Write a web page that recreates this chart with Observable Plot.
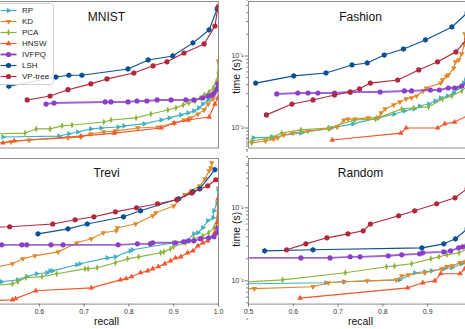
<!DOCTYPE html>
<html><head><meta charset="utf-8">
<script src="https://cdn.jsdelivr.net/npm/d3@7"></script>
<script src="https://cdn.jsdelivr.net/npm/@observablehq/plot@0.6"></script>
<style>
html,body{margin:0;padding:0;background:#fff;}
#fig{position:relative;width:465px;height:329px;overflow:hidden;background:#fff;font-family:"Liberation Sans",Arial,sans-serif;}
</style></head><body><div id="fig"></div>
<script>
const methods = ["RP","KD","PCA","HNSW","IVFPQ","LSH","VP-tree"];
const colors = ["#3fb0c0","#e0892a","#8db33d","#f2562b","#8a3fc8","#0b5095","#b0283e"];
const titles = ["MNIST","Fashion","Trevi","Random"];
const xTicksLeft = [0.6,0.7,0.8,0.9,1.0];
const xTicksRight = [0.5,0.6,0.7,0.8,0.9];
const yMajorTicks = [0.01,0.1];
const yMinorTicks = [0.002,0.003,0.004,0.005,0.006,0.007,0.008,0.009,0.02,0.03,0.04,0.05,0.06,0.07,0.08,0.09,0.2,0.3,0.4,0.5,0.6,0.7,0.8,0.9];

// [recall, time (s)]
const mnistRP = [[0.519,0.0075],[0.644,0.0077],[0.666,0.0083],[0.686,0.0088],[0.715,0.0097],[0.738,0.0100],[0.776,0.0103],[0.789,0.0107],[0.834,0.0114],[0.872,0.0129],[0.890,0.0138],[0.916,0.0152],[0.932,0.0162],[0.945,0.0172],[0.956,0.0190],[0.965,0.0215],[0.977,0.0245],[0.988,0.0278],[0.994,0.0327],[0.999,0.042]];
const mnistKD = [[0.505,0.0062],[0.537,0.0064],[0.577,0.0068],[0.664,0.0073],[0.693,0.0075],[0.715,0.0083],[0.744,0.0088],[0.771,0.0091],[0.820,0.0100],[0.865,0.0103],[0.901,0.0117],[0.923,0.0129],[0.938,0.0138],[0.954,0.0156],[0.968,0.0178],[0.977,0.0215],[0.988,0.0253],[0.994,0.0327],[0.999,0.045],[0.9995,0.085]];
const mnistPCA = [[0.505,0.0083],[0.568,0.0085],[0.593,0.0097],[0.624,0.0097],[0.651,0.0107],[0.673,0.0110],[0.744,0.0121],[0.760,0.0129],[0.816,0.0138],[0.849,0.0156],[0.887,0.0178],[0.905,0.0190],[0.921,0.0209],[0.934,0.0222],[0.948,0.0237],[0.959,0.0261],[0.968,0.0287],[0.979,0.0316],[0.988,0.0359],[0.994,0.042],[0.999,0.058],[1.0,0.080]];
const mnistHNSW = [[0.519,0.0062],[0.544,0.0066],[0.693,0.0077],[0.767,0.0085],[0.872,0.0100],[0.901,0.0117],[0.932,0.0129],[0.979,0.0142],[0.992,0.0215],[0.999,0.0261],[1.0,0.0327]];
const mnistIVFPQ = [[0.615,0.0215],[0.633,0.0222],[0.747,0.0230],[0.760,0.0230],[0.798,0.0230],[0.818,0.0237],[0.840,0.0237],[0.863,0.0245],[0.894,0.0245],[0.927,0.0245],[0.945,0.0245],[0.965,0.0261],[0.977,0.0278],[0.985,0.0287],[0.990,0.0306],[0.997,0.035],[0.999,0.041]];
const mnistLSH = [[0.532,0.038],[0.637,0.051],[0.666,0.054],[0.695,0.054],[0.798,0.066],[0.843,0.088],[0.898,0.100],[0.943,0.152],[0.979,0.230],[0.997,0.450]];
const mnistVP = [[0.573,0.0245],[0.624,0.0278],[0.664,0.034],[0.715,0.041],[0.751,0.048],[0.811,0.058],[0.854,0.073],[0.885,0.083],[0.923,0.110],[0.968,0.147],[0.992,0.261],[0.999,0.480]];

const fashionRP = [[0.511,0.0073],[0.554,0.0075],[0.617,0.0085],[0.685,0.0100],[0.733,0.0114],[0.789,0.0138],[0.825,0.0156],[0.848,0.0172],[0.870,0.0184],[0.882,0.0202],[0.902,0.0215],[0.917,0.0237],[0.929,0.0261],[0.944,0.0278],[0.958,0.0306],[0.969,0.0359],[0.980,0.042],[0.988,0.062]];
const fashionKD = [[0.507,0.0062],[0.538,0.0066],[0.556,0.0070],[0.565,0.0073],[0.579,0.0080],[0.599,0.0085],[0.633,0.0091],[0.680,0.0097],[0.698,0.0103],[0.713,0.0129],[0.722,0.0133],[0.738,0.0133],[0.767,0.0138],[0.789,0.0138],[0.796,0.0162],[0.805,0.0184],[0.824,0.0209],[0.838,0.0230],[0.852,0.0253],[0.864,0.0261],[0.875,0.0278],[0.890,0.0327],[0.897,0.0359],[0.929,0.042],[0.933,0.0464],[0.942,0.0527],[0.946,0.0545],[0.958,0.068],[0.962,0.083],[0.969,0.088],[0.976,0.107],[0.982,0.147],[0.983,0.202]];
const fashionPCA = [[0.507,0.0066],[0.549,0.0073],[0.574,0.0085],[0.617,0.0094],[0.678,0.0100],[0.736,0.0129],[0.783,0.0133],[0.842,0.0184],[0.869,0.0190],[0.902,0.0196],[0.933,0.0253],[0.954,0.0278],[0.976,0.0327],[0.988,0.0383]];
const fashionHNSW = [[0.687,0.0068],[0.840,0.0085],[0.852,0.0100],[0.922,0.0100],[0.938,0.0114],[0.960,0.0121],[0.988,0.0147]];
const fashionIVFPQ = [[0.563,0.0297],[0.610,0.0306],[0.633,0.0306],[0.655,0.0306],[0.692,0.0306],[0.727,0.0316],[0.794,0.0316],[0.848,0.0327],[0.864,0.0327],[0.906,0.0337],[0.926,0.0337],[0.946,0.0359],[0.960,0.0359],[0.976,0.0383],[0.988,0.042]];
const fashionLSH = [[0.516,0.042],[0.601,0.053],[0.673,0.058],[0.731,0.075],[0.765,0.080],[0.803,0.103],[0.846,0.125],[0.895,0.167],[0.954,0.253],[0.988,0.396]];
const fashionVP = [[0.540,0.0152],[0.597,0.0215],[0.644,0.0245],[0.692,0.0287],[0.727,0.0316],[0.748,0.035],[0.772,0.042],[0.833,0.0464],[0.880,0.064],[0.922,0.083],[0.963,0.114],[0.988,0.172]];

const treviRP = [[0.49,0.0095],[0.516,0.0097],[0.552,0.0103],[0.572,0.0114],[0.594,0.0125],[0.617,0.0129],[0.624,0.0137],[0.630,0.0137],[0.684,0.0166],[0.691,0.0171],[0.752,0.0206],[0.770,0.0213],[0.803,0.0257],[0.808,0.0266],[0.900,0.0332],[0.927,0.0342],[0.945,0.044],[0.954,0.0455],[0.965,0.0532],[0.976,0.0664],[0.988,0.073],[0.990,0.091],[0.997,0.117],[0.999,0.182]];
const treviKD = [[0.49,0.0148],[0.540,0.0171],[0.563,0.020],[0.590,0.022],[0.642,0.0249],[0.684,0.0332],[0.716,0.0376],[0.743,0.0455],[0.772,0.0484],[0.774,0.0532],[0.815,0.060],[0.853,0.0777],[0.860,0.0855],[0.900,0.106],[0.925,0.151],[0.940,0.171],[0.958,0.200],[0.970,0.249],[0.979,0.321],[0.983,0.353],[0.985,0.413]];
const treviPCA = [[0.49,0.0085],[0.540,0.0091],[0.552,0.0097],[0.570,0.0110],[0.606,0.0114],[0.639,0.0125],[0.702,0.0146],[0.709,0.0146],[0.729,0.0151],[0.770,0.0177],[0.797,0.020],[0.822,0.0213],[0.871,0.0242],[0.878,0.0249],[0.893,0.0274],[0.900,0.0292],[0.927,0.0332],[0.945,0.0376],[0.965,0.0413],[0.978,0.0455],[0.990,0.0532],[0.997,0.0706],[0.999,0.133],[1.0,0.182]];
const treviHNSW = [[0.49,0.0053],[0.540,0.0055],[0.547,0.0057],[0.592,0.0073],[0.716,0.0080],[0.781,0.0103],[0.794,0.0107],[0.806,0.0114],[0.826,0.0129],[0.842,0.0137],[0.853,0.0146],[0.866,0.0156],[0.880,0.0171],[0.893,0.0188],[0.904,0.0206],[0.916,0.0213],[0.931,0.0242],[0.943,0.0257],[0.954,0.0302],[0.965,0.0332],[0.976,0.0353],[0.990,0.044],[0.997,0.0624],[0.999,0.133]];
const treviIVFPQ = [[0.49,0.0311],[0.516,0.0311],[0.561,0.0311],[0.572,0.0311],[0.626,0.0311],[0.653,0.0311],[0.776,0.0311],[0.819,0.0321],[0.848,0.0321],[0.853,0.0332],[0.904,0.0332],[0.922,0.0342],[0.933,0.0353],[0.945,0.0353],[0.960,0.0376],[0.978,0.0388],[0.990,0.0401],[0.997,0.0455],[0.999,0.0532]];
const treviLSH = [[0.597,0.044],[0.664,0.0515],[0.707,0.060],[0.788,0.0753],[0.826,0.091],[0.911,0.133],[0.943,0.166],[0.958,0.182],[0.992,0.332]];
const treviVP = [[0.49,0.054],[0.534,0.055],[0.630,0.060],[0.680,0.0686],[0.722,0.0753],[0.770,0.088],[0.817,0.100],[0.864,0.1135],[0.907,0.129],[0.940,0.160],[0.976,0.200],[0.994,0.242]];

const randomRP = [[0.49,0.0091],[0.673,0.0094],[0.713,0.0097],[0.837,0.0103],[0.871,0.0129],[0.894,0.0133],[0.909,0.0137],[0.936,0.0146],[0.954,0.0151],[0.976,0.0171],[0.988,0.0182]];
const randomKD = [[0.49,0.0078],[0.513,0.0078],[0.644,0.0083],[0.678,0.0094],[0.713,0.0097],[0.765,0.0100],[0.830,0.0103],[0.842,0.0117],[0.857,0.0121],[0.894,0.0129],[0.931,0.0146],[0.943,0.0156],[0.954,0.0160],[0.972,0.0177],[0.983,0.0182],[0.988,0.0188]];
const randomPCA = [[0.49,0.0096],[0.576,0.0103],[0.716,0.0129],[0.808,0.0156],[0.826,0.0160],[0.864,0.0171],[0.907,0.020],[0.925,0.0213],[0.943,0.0227],[0.970,0.0242],[0.988,0.0274]];
const randomHNSW = [[0.615,0.0058],[0.855,0.0080],[0.889,0.0094],[0.916,0.0100],[0.929,0.0125],[0.972,0.0125],[0.983,0.0146],[0.988,0.0151]];
const randomIVFPQ = [[0.49,0.0206],[0.617,0.0206],[0.682,0.0206],[0.727,0.0213],[0.749,0.0213],[0.812,0.022],[0.842,0.0227],[0.882,0.0234],[0.889,0.0242],[0.936,0.0249],[0.951,0.0257],[0.969,0.0283],[0.978,0.0292],[0.988,0.0311]];
const randomLSH = [[0.536,0.0257],[0.644,0.0266],[0.887,0.0283],[0.936,0.0321],[0.962,0.0376],[0.988,0.0515]];
const randomVP = [[0.585,0.0266],[0.628,0.0321],[0.675,0.0388],[0.722,0.044],[0.756,0.0484],[0.772,0.060],[0.835,0.0777],[0.871,0.091],[0.920,0.1135],[0.961,0.137],[0.988,0.182]];

// marker shapes
function polySymbol(pts) {
  return {draw(ctx, size) {
    const r = Math.sqrt(size / Math.PI);
    ctx.moveTo(pts[0][0] * r, pts[0][1] * r);
    for (let i = 1; i < pts.length; ++i) ctx.lineTo(pts[i][0] * r, pts[i][1] * r);
    ctx.closePath();
  }};
}
const s3 = Math.sqrt(3) / 2;
const triRight = polySymbol([[1.25,0],[-0.625,-1.25*s3],[-0.625,1.25*s3]]);
const triDown = polySymbol([[0,1.25],[-1.25*s3,-0.625],[1.25*s3,-0.625]]);
const triUp = polySymbol([[0,-1.25],[1.25*s3,0.625],[-1.25*s3,0.625]]);
const thinDiamond = polySymbol([[0,-1.35],[0.62,0],[0,1.35],[-0.62,0]]);
const hexagon = polySymbol(d3.range(6).map(k => [1.1*Math.sin(k*Math.PI/3), -1.1*Math.cos(k*Math.PI/3)]));
const symbols = [triRight, triDown, thinDiamond, triUp, "circle", hexagon, "circle"];

const panelsData = [
  [mnistRP, mnistKD, mnistPCA, mnistHNSW, mnistIVFPQ, mnistLSH, mnistVP],
  [fashionRP, fashionKD, fashionPCA, fashionHNSW, fashionIVFPQ, fashionLSH, fashionVP],
  [treviRP, treviKD, treviPCA, treviHNSW, treviIVFPQ, treviLSH, treviVP],
  [randomRP, randomKD, randomPCA, randomHNSW, randomIVFPQ, randomLSH, randomVP]
];

const fig = document.getElementById("fig");
const FONT = '"Liberation Sans", Arial, sans-serif';
const supFmt = d => d === 0.1 ? "10\u207B\u00B9" : d === 0.01 ? "10\u207B\u00B2" : "";

function place(svg, left, top) {
  svg.style.position = "absolute";
  svg.style.left = left + "px";
  svg.style.top = top + "px";
  fig.appendChild(svg);
}

function panel(idx, X0, Y0, FH, yDomain, xTicks, showY, titleDy, ylabDy) {
  const mL = 50, mR = 10, mT = 10, mB = 30, FW = 224;
  const showX = xTicks != null;
  const marks = [];
  panelsData[idx].forEach((rows, i) => {
    const data = rows.map(([recall, time]) => ({recall, time}));
    const ivf = methods[i] === "IVFPQ";
    marks.push(Plot.line(data, {x: "recall", y: "time", stroke: colors[i], strokeWidth: ivf ? 1.9 : 1.15, strokeOpacity: ivf ? 0.8 : 1, clip: true}));
    marks.push(Plot.dot(data, {x: "recall", y: "time", symbol: symbols[i], r: 2.6, fill: colors[i], stroke: "none", clip: true}));
  });
  marks.push(Plot.frame({stroke: "#8c8c8c", strokeWidth: 1}));
  marks.push(Plot.text([titles[idx]], {text: d => d, frameAnchor: "top", dy: titleDy, fontSize: 12, fill: "#111"}));
  if (showX) {
    marks.push(Plot.axisX({ticks: xTicks, tickFormat: d3.format(".1f"), tickSize: 3, tickPadding: 2, stroke: "#777", fill: "#333", fontSize: 7, label: null}));
    marks.push(Plot.text(["recall"], {text: d => d, frameAnchor: "bottom", dy: 21, fontSize: 10.5, fill: "#111"}));
  }
  if (showY) {
    marks.push(Plot.axisY({ticks: yMinorTicks, tickFormat: () => "", tickSize: 2, stroke: "#888", label: null}));
    marks.push(Plot.axisY({ticks: yMajorTicks, tickFormat: supFmt, tickSize: 3.5, tickPadding: 1.5, stroke: "#777", fill: "#333", fontSize: 7, label: null}));
    marks.push(Plot.text(["time (s)"], {text: d => d, frameAnchor: "left", dx: -12, dy: ylabDy, rotate: -90, fontSize: 10.5, fill: "#111"}));
  }
  const svg = Plot.plot({
    width: mL + FW + mR, height: mT + FH + mB,
    marginLeft: mL, marginRight: mR, marginTop: mT, marginBottom: mB,
    x: {domain: [0.5, 1.0], axis: showX ? undefined : null},
    y: {type: "log", domain: yDomain, axis: showY ? undefined : null},
    style: {background: "transparent", overflow: "visible", fontFamily: FONT, fontSize: "7px"},
    marks
  });
  place(svg, X0 - mL, Y0 - mT);
}

panel(0, -6.5, 0.5, 146.5, [0.00527, 0.571], null, false, 11, 19);
panel(1, 248.3, 0.5, 146.5, [0.00527, 0.571], null, true, 11, 19);
panel(2, -6.5, 157.7, 145.6, [0.0048, 0.473], xTicksLeft, false, 9.5, 15.5);
panel(3, 248.3, 157.7, 145.6, [0.0048, 0.473], xTicksRight, true, 9.5, 15.5);

// legend (top-left panel)
const legend = Plot.plot({
  width: 64, height: 83, margin: 1,
  x: {domain: [0, 62], range: [1, 63], axis: null},
  y: {type: "point", domain: methods, range: [8, 74], padding: 0, axis: null},
  style: {background: "transparent", overflow: "visible", fontFamily: FONT},
  marks: [
    Plot.frame({rx: 3, stroke: "#cfcfcf", fill: "white", fillOpacity: 0.85}),
    ...methods.map((m, i) => Plot.link([m], {x1: 9, x2: 25, y1: d => d, y2: d => d, stroke: colors[i], strokeWidth: methods[i] === "IVFPQ" ? 1.8 : 1.15})),
    ...methods.map((m, i) => Plot.dot([m], {x: 17, y: d => d, symbol: symbols[i], r: 2.6, fill: colors[i], stroke: "none"})),
    Plot.text(methods, {x: 30.5, y: d => d, text: d => d, textAnchor: "start", fontSize: 8, fill: "#222"})
  ]
});
place(legend, -10, 2);
</script></body></html>
